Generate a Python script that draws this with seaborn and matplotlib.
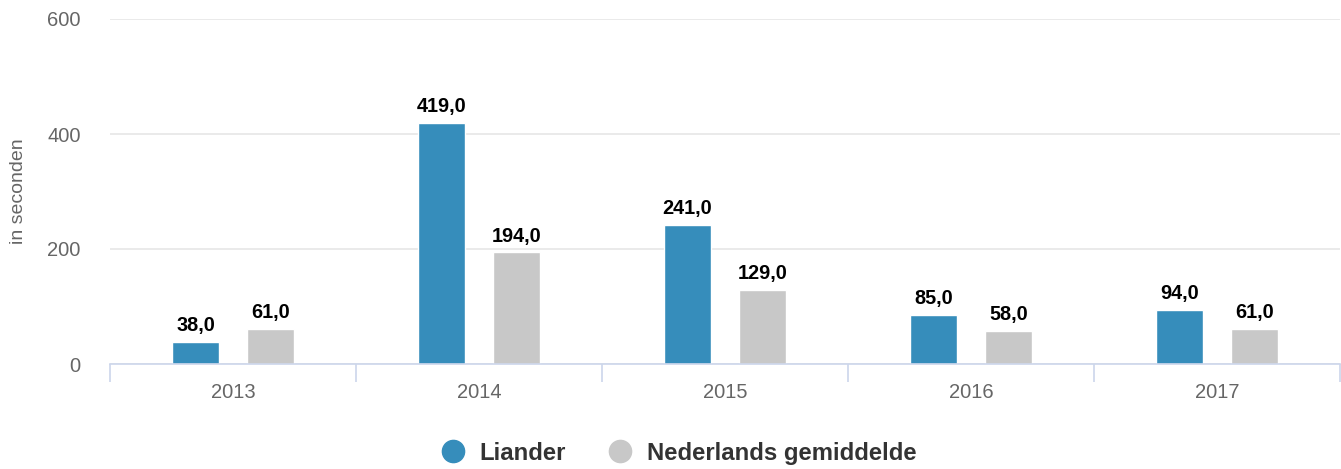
import pandas as pd
import seaborn as sns
import matplotlib.pyplot as plt
from matplotlib.lines import Line2D

# Dati
jaren = ["2013", "2014", "2015", "2016", "2017"]
liander = [38.0, 419.0, 241.0, 85.0, 94.0]
nl_gemiddelde = [61.0, 194.0, 129.0, 58.0, 61.0]
series = ["Liander", "Nederlands gemiddelde"]
kleuren = ["#368dbb", "#c8c8c8"]
y_ticks = [0, 200, 400, 600]

df = pd.DataFrame({
    "jaar": jaren * 2,
    "waarde": liander + nl_gemiddelde,
    "serie": [series[0]] * len(jaren) + [series[1]] * len(jaren),
})

sns.set_theme(style="white")
plt.rcParams["font.family"] = ["Liberation Sans", "DejaVu Sans"]

fig = plt.figure(figsize=(13.41, 4.69), dpi=100)
ax = fig.add_axes([110 / 1341, 1 - 364 / 469, 1230 / 1341, 345 / 469])

sns.barplot(data=df, x="jaar", y="waarde", hue="serie", palette=kleuren,
            width=0.61, gap=0.37, order=jaren, hue_order=series,
            legend=False, ax=ax, saturation=1)

# Etichette dati in stile olandese (virgola decimale)
for cont in ax.containers:
    vals = cont.datavalues
    ax.bar_label(cont, labels=[f"{v:.1f}".replace(".", ",") for v in vals],
                 padding=5, fontsize=14.3, fontweight="bold", color="black")

ax.set_xlim(-0.5, len(jaren) - 0.5)
ax.set_ylim(0, 600)
ax.set_yticks(y_ticks)
ax.set_yticklabels([str(t) for t in y_ticks])
ax.yaxis.grid(True, color="#e6e6e6", linewidth=1.2)
ax.set_axisbelow(True)

for s in ["top", "right", "left"]:
    ax.spines[s].set_visible(False)
ax.spines["bottom"].set_color("#ccd6eb")
ax.spines["bottom"].set_linewidth(1.2)

# Tick tra le categorie, etichette al centro
ax.set_xticks([i - 0.5 for i in range(len(jaren) + 1)], minor=True)
ax.tick_params(axis="x", which="minor", length=13, width=1.2, color="#ccd6eb",
               direction="out", bottom=True)
ax.tick_params(axis="x", which="major", length=0, pad=14, labelsize=14.5,
               labelcolor="#666666")
ax.tick_params(axis="y", length=0, pad=21, labelsize=14.5, labelcolor="#666666")

ax.set_xlabel("")
ax.set_ylabel("in seconden", fontsize=14, color="#666666")
ax.yaxis.set_label_coords(-0.0675, 0.5)

handles = [Line2D([0], [0], marker="o", linestyle="", markersize=16,
                  markerfacecolor=c, markeredgecolor=c) for c in kleuren]
fig.legend(handles, series, loc="center", bbox_to_anchor=(0.5015, 0.034),
           ncol=2, frameon=False, handletextpad=0.1, columnspacing=1.3,
           prop={"weight": "bold", "size": 17.2}, labelcolor="#333333")

fig.savefig("out.png", dpi=100)
